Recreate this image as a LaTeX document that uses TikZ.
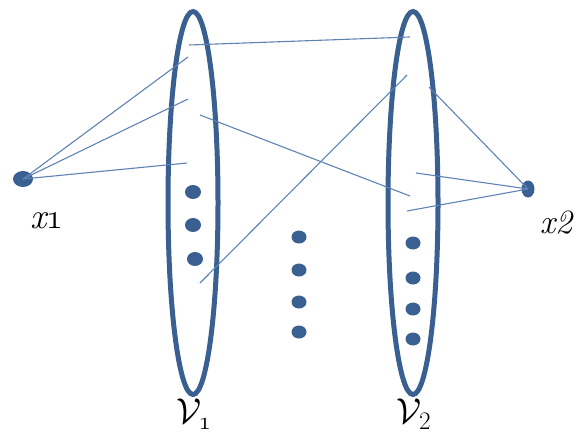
\RequirePackage{fix-cm}
\documentclass[tikz,border=0pt]{standalone}
\usetikzlibrary{shapes.geometric}
\definecolor{ringblue}{RGB}{58,95,145}
\definecolor{lineblue}{RGB}{95,130,180}
\begin{document}
\begin{tikzpicture}[x=1pt,y=-1pt,
  ring/.style={draw=ringblue,line width=5pt,ellipse,inner sep=0pt,minimum width=50pt,minimum height=383pt},
  thin/.style={draw=lineblue,line width=1.1pt},
  bigdot/.style={fill=ringblue,ellipse,inner sep=0pt,minimum width=#1,minimum height=14pt},
  bigdot/.default=16pt,
  lbl/.style={inner sep=0pt,text=black}]
\useasboundingbox (0,0) rectangle (577,437);
\node[ring] (V1) at (193,203) {};
\node[ring] (V2) at (413,203) {};
% connector ends
\coordinate (a1) at (188,57);
\coordinate (a2) at (188,99);
\coordinate (a3) at (187,163);
\coordinate (t1) at (189,45);
\coordinate (t2) at (410,37);
\coordinate (m1) at (200,115);
\coordinate (m2) at (410,196);
\coordinate (d1) at (407,75);
\coordinate (d2) at (200,283);
\coordinate (b1) at (429,87);
\coordinate (b2) at (416,173);
\coordinate (b3) at (407,211);
% vertices
\node[bigdot=20pt,minimum height=16pt] (x1) at (23,179) {};
\node[bigdot=13pt,minimum height=17pt] (x2) at (528,189) {};
% lines
\draw[thin] (x1.center) -- (a1);
\draw[thin] (x1.center) -- (a2);
\draw[thin] (x1.center) -- (a3);
\draw[thin] (t1) -- (t2);
\draw[thin] (m1) -- (m2);
\draw[thin] (d1) -- (d2);
\draw[thin] (x2.center) -- (b1);
\draw[thin] (x2.center) -- (b2);
\draw[thin] (x2.center) -- (b3);
% dots in V1
\node[bigdot] (p1) at (193,192) {};
\node[bigdot] (p2) at (193,225) {};
\node[bigdot] (p3) at (195,259) {};
% middle dots
\node[bigdot=15pt,minimum height=13pt] (q1) at (299,237) {};
\node[bigdot=15pt,minimum height=13pt] (q2) at (299,270) {};
\node[bigdot=15pt,minimum height=13pt] (q3) at (299,302) {};
\node[bigdot=15pt,minimum height=13pt] (q4) at (299,332) {};
% dots in V2
\node[bigdot=15pt,minimum height=13pt] (r1) at (413,243) {};
\node[bigdot=15pt,minimum height=13pt] (r2) at (413,278) {};
\node[bigdot=15pt,minimum height=13pt] (r3) at (413,309) {};
\node[bigdot=15pt,minimum height=13pt] (r4) at (413,339) {};
% labels
\node[lbl,font=\fontsize{36}{38}\selectfont] (lx1) at (47,221) {\itshape x\oldstylenums{1}};
\node[lbl,font=\fontsize{34}{36}\selectfont] (lx2) at (556,223) {\itshape x2};
\node[lbl,font=\fontsize{36}{38}\selectfont] (lv1) at (194,414) {$\mathcal{V}_{\oldstylenums{1}}$};
\node[lbl,font=\fontsize{36}{38}\selectfont] (lv2) at (414,414) {$\mathcal{V}_{2}$};
\end{tikzpicture}
\end{document}
